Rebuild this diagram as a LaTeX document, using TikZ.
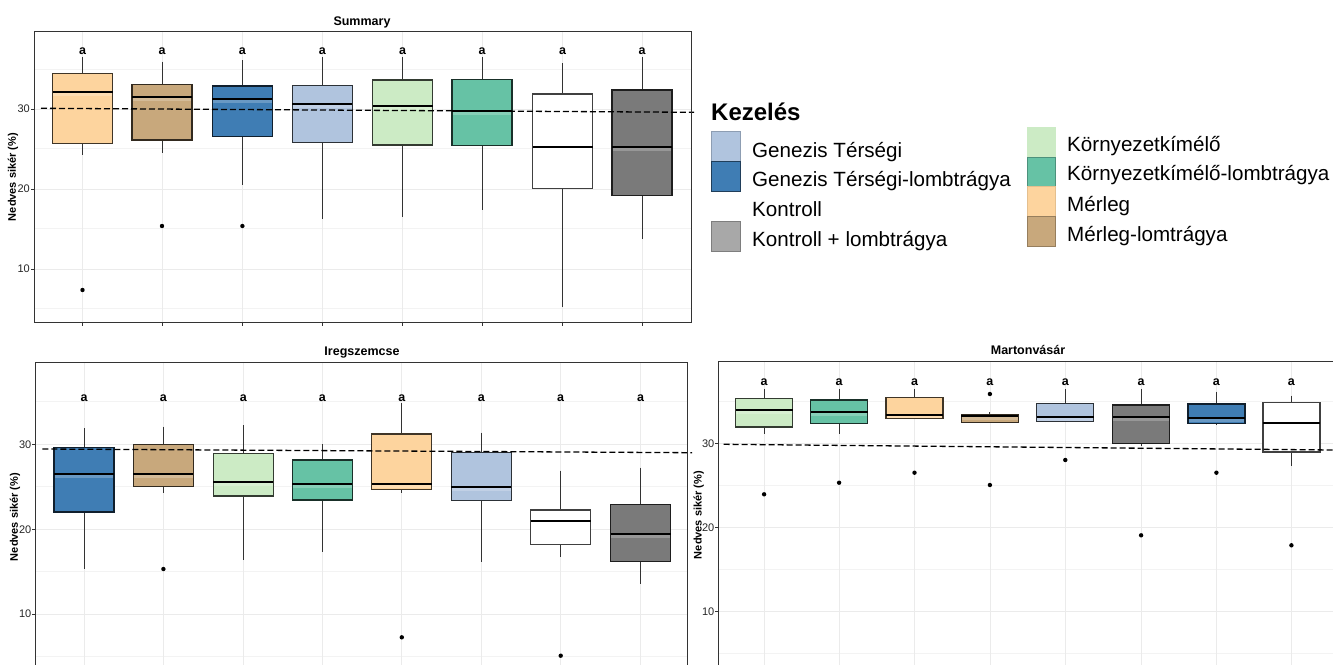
\documentclass[tikz,border=0pt]{standalone}
\usepackage{fontspec}
\setmainfont{Liberation Sans}
\definecolor{cM}{HTML}{FDD49E}
\definecolor{cML}{HTML}{C8A87C}
\definecolor{cGTL}{HTML}{3F7DB4}
\definecolor{cGT}{HTML}{B0C4DE}
\definecolor{cKK}{HTML}{CCEBC5}
\definecolor{cKKL}{HTML}{66C2A5}
\definecolor{cK}{HTML}{FFFFFF}
\definecolor{cKL}{HTML}{7A7A7A}
\definecolor{cKLkey}{HTML}{A8A8A8}
\definecolor{gridc}{HTML}{EBEBEB}
\definecolor{gridm}{HTML}{F3F3F3}
\definecolor{frame}{HTML}{333333}
\tikzset{
  whisk/.style={draw=frame,line width=1pt},
  boxline/.style={line width=1.3pt},
  medline/.style={draw=black,line width=2pt},
  refline/.style={draw=black,line width=1.3pt,dash pattern=on 6pt off 3pt},
  panel/.style={draw=frame,line width=1pt},
  gmaj/.style={draw=gridc,line width=0.8pt},
  gmin/.style={draw=gridm,line width=0.6pt},
  outl/.style={fill=black},
  ptitle/.style={font=\bfseries\fontsize{12.5}{14}\selectfont,inner sep=0pt,anchor=base},
  ylab/.style={font=\bfseries\fontsize{11}{13}\selectfont,rotate=90,inner sep=0pt},
  tlab/.style={font=\fontsize{11}{13}\selectfont,text=black!85,inner sep=0pt,anchor=east},
  sig/.style={font=\bfseries\fontsize{12.5}{14}\selectfont,inner sep=0pt},
  legtext/.style={font=\fontsize{20.6}{24}\selectfont,inner sep=0pt,anchor=base west},
  legkey/.style={line width=0.8pt}
}
\newcommand\bxp[8]{%
  \draw[whisk] (#1,#3) -- (#1,#4);
  \draw[whisk] (#1,#6) -- (#1,#7);
  \fill[#8] (#1-#2,#4) rectangle (#1+#2,#6);
  \fill[white,opacity=.22] (#1-#2,#5) rectangle (#1+#2,#5+4);
  \draw[boxline,draw=#8!25!black] (#1-#2,#4) rectangle (#1+#2,#6);
  \draw[medline] (#1-#2,#5) -- (#1+#2,#5);}
\newcommand\outp[2]{\fill[outl] (#1,#2) circle[radius=2.2pt];}
\begin{document}
\begin{tikzpicture}[x=1pt,y=-1pt]
\useasboundingbox (0,0) rectangle (1333,664);
\clip (0,0) rectangle (1333,664);
\fill[white] (0,0) rectangle (1333,664);

% ================= Summary =================
\node[ptitle] (tS) at (362,25) {Summary};
\foreach \y in {69,148,228,308} \draw[gmin] (34.5,\y) -- (691,\y);
\foreach \y in {109,189,269} \draw[gmaj] (34.5,\y) -- (691,\y);
\foreach \x in {82.5,162,242.4,322.3,402.7,482,562.5,642} {
  \draw[gmaj] (\x,31) -- (\x,322);
  \draw[frame,line width=0.8pt] (\x,322) -- (\x,326);
  \node[sig] at (\x,51.5) {a};
}
\bxp{82.5}{30}{57}{73.3}{91.7}{143.3}{155}{cM}
\bxp{162}{30}{61.7}{84.7}{97.3}{140}{153}{cML}
\bxp{242.4}{30}{60}{86}{99}{136.7}{185}{cGTL}
\bxp{322.3}{30}{57}{85.7}{104}{142.7}{219}{cGT}
\bxp{402.7}{30}{57}{80}{106}{145}{216.7}{cKK}
\bxp{482}{30}{57}{79.3}{110.7}{145.7}{210}{cKKL}
\bxp{562.5}{30}{63.3}{94}{147.3}{188.7}{306.7}{cK}
\bxp{642}{30}{57}{90}{147.3}{195.7}{239.3}{cKL}
\outp{82.5}{290}
\outp{162}{226}
\outp{242.4}{226}
\draw[refline] (41,108.3) -- (694,112.3);
\draw[panel] (34.5,31) rectangle (691,322);
\foreach \y/\t in {109/30,189/20,269/10} {
  \draw[frame,line width=0.8pt] (31,\y) -- (34.5,\y);
  \node[tlab] at (30,\y) {\t};
}
\node[ylab] (yS) at (13,177) {Nedves sikér (\%)};

% ================= Iregszemcse =================
\node[ptitle] (tI) at (362,355) {Iregszemcse};
\foreach \y in {401.7,486.7,571.7,656} \draw[gmin] (35.7,\y) -- (687.5,\y);
\foreach \y in {444.3,529.3,614} \draw[gmaj] (35.7,\y) -- (687.5,\y);
\foreach \x in {84,163.4,243.3,322.3,401.8,481.3,560.7,640.6} {
  \draw[gmaj] (\x,362.7) -- (\x,680);
  \node[sig] at (\x,398) {a};
}
\bxp{84}{30}{428.3}{447.7}{474.3}{512}{569}{cGTL}
\bxp{163.4}{30}{426.7}{444.3}{474.3}{486.7}{492.7}{cML}
\bxp{243.3}{30}{425}{453.3}{481.7}{496}{560}{cKK}
\bxp{322.3}{30}{444.3}{460}{483.7}{500}{552}{cKKL}
\bxp{401.8}{30}{403}{434}{483.7}{489.3}{493.3}{cM}
\bxp{481.3}{30}{432.7}{452.3}{487}{500.3}{561.7}{cGT}
\bxp{560.7}{30}{470.7}{510}{521}{544.7}{556.7}{cK}
\bxp{640.6}{30}{467.7}{504.7}{534}{561.3}{584.3}{cKL}
\outp{163.4}{569}
\outp{401.8}{637.3}
\outp{560.7}{655.7}
\draw[refline] (42.4,449) -- (692,452.7);
\draw[panel] (35.7,362.7) rectangle (687.5,680);
\foreach \y/\t in {444.3/30,529.3/20,614/10} {
  \draw[frame,line width=0.8pt] (32.2,\y) -- (35.7,\y);
  \node[tlab] at (31.5,\y) {\t};
}
\node[ylab] (yI) at (15,517) {Nedves sikér (\%)};

% ================= Martonvasar =================
\node[ptitle] (tM) at (1028,354) {Martonvásár};
\foreach \y in {401.7,485.7,569.3,653.3} \draw[gmin] (718.7,\y) -- (1340,\y);
\foreach \y in {443.3,527.3,611.7} \draw[gmaj] (718.7,\y) -- (1340,\y);
\foreach \x in {764.1,839.1,914.5,989.9,1065.3,1141.1,1216.4,1291.4} {
  \draw[gmaj] (\x,361.7) -- (\x,680);
  \node[sig] at (\x,382.5) {a};
}
\bxp{764.1}{28.5}{389.3}{398.3}{409.7}{427}{434}{cKK}
\bxp{839.1}{28.5}{389.3}{400}{411.7}{423.7}{434}{cKKL}
\bxp{914.5}{28.5}{389.3}{397.3}{415}{418.7}{418.7}{cM}
\bxp{989.9}{28.5}{412}{414.3}{415.7}{422.7}{422.7}{cML}
\bxp{1065.3}{28.5}{389.3}{403.7}{417}{421.7}{421.7}{cGT}
\bxp{1141.1}{28.5}{389.3}{405}{417.3}{443.7}{446}{cKL}
\bxp{1216.4}{28.5}{391.7}{404}{418.3}{423.7}{425.3}{cGTL}
\bxp{1291.4}{28.5}{395.7}{402.7}{423}{452}{466}{cK}
\outp{764.1}{494.3}
\outp{839.1}{482.7}
\outp{914.5}{472.7}
\outp{989.9}{394}
\outp{989.9}{485}
\outp{1065.3}{460}
\outp{1141.1}{535.3}
\outp{1216.4}{472.7}
\outp{1291.4}{545.3}
\draw[refline] (723.7,444.3) -- (1333,450);
\draw[panel] (718.7,361.7) rectangle (1340,680);
\foreach \y/\t in {443.3/30,527.3/20,611.7/10} {
  \draw[frame,line width=0.8pt] (715.2,\y) -- (718.7,\y);
  \node[tlab] at (714.5,\y) {\t};
}
\node[ylab] (yM) at (698.7,515) {Nedves sikér (\%)};

% ================= Legend =================
\node[font=\bfseries\fontsize{24}{28}\selectfont,inner sep=0pt,anchor=base west] (lt) at (711,120) {Kezelés};
\draw[legkey,fill=cGT,draw=cGT!80!black] (711,131.7) rectangle (740,161);
\draw[legkey,fill=cGTL,draw=cGTL!50!black] (711,161) rectangle (740,191.7);
\draw[legkey,fill=cKLkey,draw=cKLkey!75!black] (711,221.7) rectangle (740,251.7);
\node[legtext] (l1) at (752,157.3) {Genezis Térségi};
\node[legtext] (l2) at (752,186) {Genezis Térségi-lombtrágya};
\node[legtext] (l3) at (752,216) {Kontroll};
\node[legtext] (l4) at (752,246) {Kontroll + lombtrágya};
\draw[legkey,fill=cKK,draw=cKK] (1027,127.7) rectangle (1055,156);
\draw[legkey,fill=cKKL,draw=cKKL!75!black] (1027,157.7) rectangle (1055,186.7);
\draw[legkey,fill=cM,draw=cM!90!black] (1027,186.7) rectangle (1055,216.7);
\draw[legkey,fill=cML,draw=cML!75!black] (1027,216.7) rectangle (1055,246.7);
\node[legtext] (r1) at (1067,151.7) {Környezetkímélő};
\node[legtext] (r2) at (1067,180.7) {Környezetkímélő-lombtrágya};
\node[legtext] (r3) at (1067,211.7) {Mérleg};
\node[legtext] (r4) at (1067,241.7) {Mérleg-lomtrágya};
\end{tikzpicture}
\end{document}
